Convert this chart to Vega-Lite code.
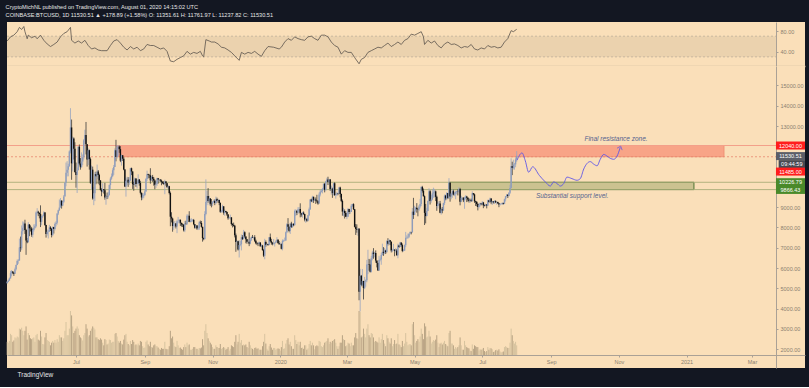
{
"$schema":"https://vega.github.io/schema/vega-lite/v6.json",
"background":"#131722",
"padding":{"left":5,"right":6,"top":4,"bottom":8},
"title":{"text":"CryptoMichNL published on TradingView.com, August 01, 2020 14:15:02 UTC","subtitle":"COINBASE:BTCUSD, 1D  11530.51 ▲ +178.89 (+1.58%)  O: 11351.61  H: 11761.97  L: 11237.82  C: 11530.51","anchor":"start","font":"Liberation Sans","fontSize":5.6,"fontWeight":"normal","color":"#e6e6e6","subtitleFont":"Liberation Sans","subtitleFontSize":5.6,"subtitleColor":"#e6e6e6","subtitlePadding":2.5,"offset":3.5},
"config":{"view":{"stroke":null},"concat":{"spacing":0},"axis":{"labelFont":"Liberation Sans","labelFontSize":5.5,"labelColor":"#8a8070","domainColor":"#aaa196","tickColor":"#aaa196","grid":false,"domainWidth":1}},
"spacing":0,
"datasets":{
"k":[
{"d":"2019-04-30","o":5260,"h":5350,"l":5220,"c":5320,"v":30},
{"d":"2019-05-01","o":5320,"h":5430,"l":5300,"c":5380,"v":28},
{"d":"2019-05-02","o":5380,"h":5530,"l":5370,"c":5490,"v":32},
{"d":"2019-05-03","o":5490,"h":5860,"l":5480,"c":5750,"v":48},
{"d":"2019-05-04","o":5750,"h":5900,"l":5590,"c":5830,"v":45},
{"d":"2019-05-05","o":5830,"h":5840,"l":5700,"c":5770,"v":30},
{"d":"2019-05-06","o":5770,"h":5800,"l":5610,"c":5720,"v":33},
{"d":"2019-05-07","o":5720,"h":6020,"l":5710,"c":5940,"v":40},
{"d":"2019-05-08","o":5940,"h":6170,"l":5880,"c":6150,"v":38},
{"d":"2019-05-09","o":6150,"h":6420,"l":6140,"c":6350,"v":42},
{"d":"2019-05-10","o":6350,"h":6440,"l":6210,"c":6370,"v":40},
{"d":"2019-05-11","o":6370,"h":7450,"l":6360,"c":7010,"v":60},
{"d":"2019-05-12","o":7010,"h":7550,"l":6800,"c":6980,"v":58},
{"d":"2019-05-13","o":6980,"h":8100,"l":6880,"c":7810,"v":62},
{"d":"2019-05-14","o":7810,"h":8300,"l":7650,"c":7980,"v":55},
{"d":"2019-05-15","o":7980,"h":8280,"l":7860,"c":8200,"v":45},
{"d":"2019-05-16","o":8200,"h":8380,"l":7680,"c":7880,"v":55},
{"d":"2019-05-17","o":7880,"h":7930,"l":6650,"c":7360,"v":65},
{"d":"2019-05-18","o":7360,"h":7480,"l":7220,"c":7270,"v":35},
{"d":"2019-05-19","o":7270,"h":8260,"l":7260,"c":8150,"v":50},
{"d":"2019-05-20","o":8150,"h":8160,"l":7570,"c":7960,"v":45},
{"d":"2019-05-21","o":7960,"h":8100,"l":7800,"c":7950,"v":38},
{"d":"2019-05-22","o":7950,"h":8030,"l":7540,"c":7640,"v":36},
{"d":"2019-05-23","o":7640,"h":7950,"l":7500,"c":7880,"v":38},
{"d":"2019-05-24","o":7880,"h":8150,"l":7800,"c":7990,"v":40},
{"d":"2019-05-25","o":7990,"h":8160,"l":7940,"c":8060,"v":30},
{"d":"2019-05-26","o":8060,"h":8790,"l":8000,"c":8740,"v":45},
{"d":"2019-05-27","o":8740,"h":8950,"l":8650,"c":8780,"v":48},
{"d":"2019-05-28","o":8780,"h":8820,"l":8560,"c":8720,"v":35},
{"d":"2019-05-29","o":8720,"h":8740,"l":8450,"c":8660,"v":33},
{"d":"2019-05-30","o":8660,"h":9090,"l":8020,"c":8280,"v":55},
{"d":"2019-05-31","o":8280,"h":8580,"l":8110,"c":8550,"v":42},
{"d":"2019-06-01","o":8550,"h":8630,"l":8470,"c":8560,"v":25},
{"d":"2019-06-02","o":8560,"h":8800,"l":8550,"c":8740,"v":24},
{"d":"2019-06-03","o":8740,"h":8760,"l":8080,"c":8120,"v":40},
{"d":"2019-06-04","o":8120,"h":8130,"l":7500,"c":7680,"v":50},
{"d":"2019-06-05","o":7680,"h":7900,"l":7600,"c":7790,"v":34},
{"d":"2019-06-06","o":7790,"h":7880,"l":7460,"c":7800,"v":32},
{"d":"2019-06-07","o":7800,"h":8130,"l":7780,"c":8000,"v":30},
{"d":"2019-06-08","o":8000,"h":8060,"l":7830,"c":7930,"v":22},
{"d":"2019-06-09","o":7930,"h":7970,"l":7510,"c":7630,"v":28},
{"d":"2019-06-10","o":7630,"h":8050,"l":7570,"c":8020,"v":32},
{"d":"2019-06-11","o":8020,"h":8030,"l":7700,"c":7920,"v":28},
{"d":"2019-06-12","o":7920,"h":8250,"l":7850,"c":8170,"v":34},
{"d":"2019-06-13","o":8170,"h":8310,"l":8050,"c":8230,"v":28},
{"d":"2019-06-14","o":8230,"h":8700,"l":8140,"c":8690,"v":36},
{"d":"2019-06-15","o":8690,"h":8880,"l":8610,"c":8850,"v":30},
{"d":"2019-06-16","o":8850,"h":9380,"l":8810,"c":8980,"v":45},
{"d":"2019-06-17","o":8980,"h":9450,"l":8980,"c":9320,"v":40},
{"d":"2019-06-18","o":9320,"h":9340,"l":8930,"c":9080,"v":40},
{"d":"2019-06-19","o":9080,"h":9320,"l":9050,"c":9270,"v":32},
{"d":"2019-06-20","o":9270,"h":9600,"l":9210,"c":9530,"v":38},
{"d":"2019-06-21","o":9530,"h":10240,"l":9530,"c":10200,"v":55},
{"d":"2019-06-22","o":10200,"h":11200,"l":10030,"c":10700,"v":75},
{"d":"2019-06-23","o":10700,"h":11270,"l":10520,"c":10850,"v":45},
{"d":"2019-06-24","o":10850,"h":11140,"l":10520,"c":11020,"v":45},
{"d":"2019-06-25","o":11020,"h":11800,"l":10990,"c":11750,"v":60},
{"d":"2019-06-26","o":11750,"h":13880,"l":11650,"c":12930,"v":100},
{"d":"2019-06-27","o":12930,"h":13320,"l":10350,"c":11160,"v":90},
{"d":"2019-06-28","o":11160,"h":12480,"l":10760,"c":12380,"v":65},
{"d":"2019-06-29","o":12380,"h":12440,"l":11350,"c":11880,"v":50},
{"d":"2019-06-30","o":11880,"h":12200,"l":10700,"c":10740,"v":55},
{"d":"2019-07-01","o":10740,"h":11200,"l":9960,"c":10590,"v":60},
{"d":"2019-07-02","o":10590,"h":10950,"l":9700,"c":10820,"v":65},
{"d":"2019-07-03","o":10820,"h":12000,"l":10820,"c":11980,"v":60},
{"d":"2019-07-04","o":11980,"h":12090,"l":11060,"c":11150,"v":45},
{"d":"2019-07-05","o":11150,"h":11420,"l":10850,"c":10970,"v":40},
{"d":"2019-07-06","o":10970,"h":11700,"l":10960,"c":11250,"v":38},
{"d":"2019-07-07","o":11250,"h":11600,"l":11070,"c":11460,"v":33},
{"d":"2019-07-08","o":11460,"h":12360,"l":11350,"c":12300,"v":45},
{"d":"2019-07-09","o":12300,"h":12820,"l":12120,"c":12560,"v":50},
{"d":"2019-07-10","o":12560,"h":13200,"l":11600,"c":12100,"v":70},
{"d":"2019-07-11","o":12100,"h":12110,"l":11000,"c":11350,"v":60},
{"d":"2019-07-12","o":11350,"h":11900,"l":11080,"c":11810,"v":42},
{"d":"2019-07-13","o":11810,"h":11840,"l":10850,"c":11370,"v":45},
{"d":"2019-07-14","o":11370,"h":11450,"l":10150,"c":10200,"v":55},
{"d":"2019-07-15","o":10200,"h":11050,"l":9870,"c":10850,"v":60},
{"d":"2019-07-16","o":10850,"h":11000,"l":9370,"c":9430,"v":65},
{"d":"2019-07-17","o":9430,"h":9990,"l":9100,"c":9690,"v":62},
{"d":"2019-07-18","o":9690,"h":10740,"l":9300,"c":10640,"v":58},
{"d":"2019-07-19","o":10640,"h":10750,"l":10130,"c":10530,"v":40},
{"d":"2019-07-20","o":10530,"h":11100,"l":10380,"c":10760,"v":40},
{"d":"2019-07-21","o":10760,"h":10830,"l":10150,"c":10590,"v":36},
{"d":"2019-07-22","o":10590,"h":10650,"l":10080,"c":10320,"v":34},
{"d":"2019-07-23","o":10320,"h":10330,"l":9820,"c":9850,"v":38},
{"d":"2019-07-24","o":9850,"h":9930,"l":9540,"c":9770,"v":35},
{"d":"2019-07-25","o":9770,"h":10180,"l":9720,"c":9880,"v":28},
{"d":"2019-07-26","o":9880,"h":9890,"l":9670,"c":9840,"v":22},
{"d":"2019-07-27","o":9840,"h":10200,"l":9370,"c":9480,"v":36},
{"d":"2019-07-28","o":9480,"h":9600,"l":9120,"c":9530,"v":34},
{"d":"2019-07-29","o":9530,"h":9720,"l":9400,"c":9510,"v":24},
{"d":"2019-07-30","o":9510,"h":9750,"l":9420,"c":9590,"v":26},
{"d":"2019-07-31","o":9590,"h":10120,"l":9580,"c":10090,"v":35},
{"d":"2019-08-01","o":10090,"h":10480,"l":9890,"c":10410,"v":34},
{"d":"2019-08-02","o":10410,"h":10660,"l":10350,"c":10530,"v":28},
{"d":"2019-08-03","o":10530,"h":10920,"l":10490,"c":10820,"v":30},
{"d":"2019-08-04","o":10820,"h":11080,"l":10590,"c":10980,"v":30},
{"d":"2019-08-05","o":10980,"h":11900,"l":10980,"c":11800,"v":48},
{"d":"2019-08-06","o":11800,"h":12320,"l":11260,"c":11470,"v":50},
{"d":"2019-08-07","o":11470,"h":12060,"l":11400,"c":11980,"v":42},
{"d":"2019-08-08","o":11980,"h":12050,"l":11530,"c":11990,"v":32},
{"d":"2019-08-09","o":11990,"h":12040,"l":11680,"c":11860,"v":28},
{"d":"2019-08-10","o":11860,"h":12010,"l":11220,"c":11290,"v":32},
{"d":"2019-08-11","o":11290,"h":11590,"l":11050,"c":11560,"v":26},
{"d":"2019-08-12","o":11560,"h":11570,"l":11280,"c":11390,"v":24},
{"d":"2019-08-13","o":11390,"h":11460,"l":10820,"c":10860,"v":35},
{"d":"2019-08-14","o":10860,"h":10880,"l":9990,"c":10020,"v":45},
{"d":"2019-08-15","o":10020,"h":10440,"l":9520,"c":10300,"v":48},
{"d":"2019-08-16","o":10300,"h":10500,"l":10080,"c":10350,"v":30},
{"d":"2019-08-17","o":10350,"h":10480,"l":10000,"c":10220,"v":25},
{"d":"2019-08-18","o":10220,"h":10480,"l":10100,"c":10320,"v":22},
{"d":"2019-08-19","o":10320,"h":10940,"l":10280,"c":10920,"v":32},
{"d":"2019-08-20","o":10920,"h":10950,"l":10580,"c":10760,"v":25},
{"d":"2019-08-21","o":10760,"h":10770,"l":9900,"c":10130,"v":34},
{"d":"2019-08-22","o":10130,"h":10250,"l":9810,"c":10110,"v":30},
{"d":"2019-08-23","o":10110,"h":10460,"l":10070,"c":10410,"v":22},
{"d":"2019-08-24","o":10410,"h":10420,"l":10000,"c":10140,"v":24},
{"d":"2019-08-25","o":10140,"h":10340,"l":9920,"c":10140,"v":22},
{"d":"2019-08-26","o":10140,"h":10620,"l":10140,"c":10370,"v":26},
{"d":"2019-08-27","o":10370,"h":10390,"l":10060,"c":10190,"v":22},
{"d":"2019-08-28","o":10190,"h":10300,"l":9630,"c":9710,"v":32},
{"d":"2019-08-29","o":9710,"h":9720,"l":9340,"c":9480,"v":30},
{"d":"2019-08-30","o":9480,"h":9690,"l":9370,"c":9580,"v":20},
{"d":"2019-08-31","o":9580,"h":9680,"l":9440,"c":9600,"v":16},
{"d":"2019-09-01","o":9600,"h":9860,"l":9540,"c":9770,"v":17},
{"d":"2019-09-02","o":9770,"h":10440,"l":9760,"c":10390,"v":30},
{"d":"2019-09-03","o":10390,"h":10800,"l":10290,"c":10620,"v":33},
{"d":"2019-09-04","o":10620,"h":10650,"l":10420,"c":10580,"v":24},
{"d":"2019-09-05","o":10580,"h":10630,"l":10430,"c":10570,"v":20},
{"d":"2019-09-06","o":10570,"h":10920,"l":10160,"c":10320,"v":30},
{"d":"2019-09-07","o":10320,"h":10550,"l":10300,"c":10490,"v":18},
{"d":"2019-09-08","o":10490,"h":10590,"l":10250,"c":10400,"v":17},
{"d":"2019-09-09","o":10400,"h":10490,"l":10060,"c":10310,"v":22},
{"d":"2019-09-10","o":10310,"h":10360,"l":9880,"c":10110,"v":24},
{"d":"2019-09-11","o":10110,"h":10290,"l":9950,"c":10160,"v":20},
{"d":"2019-09-12","o":10160,"h":10450,"l":10050,"c":10420,"v":20},
{"d":"2019-09-13","o":10420,"h":10440,"l":10160,"c":10360,"v":17},
{"d":"2019-09-14","o":10360,"h":10400,"l":10250,"c":10360,"v":14},
{"d":"2019-09-15","o":10360,"h":10380,"l":10250,"c":10310,"v":12},
{"d":"2019-09-16","o":10310,"h":10360,"l":10080,"c":10250,"v":16},
{"d":"2019-09-17","o":10250,"h":10280,"l":10140,"c":10190,"v":14},
{"d":"2019-09-18","o":10190,"h":10280,"l":10100,"c":10160,"v":14},
{"d":"2019-09-19","o":10160,"h":10350,"l":9640,"c":10270,"v":30},
{"d":"2019-09-20","o":10270,"h":10290,"l":10060,"c":10180,"v":14},
{"d":"2019-09-21","o":10180,"h":10200,"l":9940,"c":9990,"v":13},
{"d":"2019-09-22","o":9990,"h":10080,"l":9890,"c":10030,"v":13},
{"d":"2019-09-23","o":10030,"h":10050,"l":9630,"c":9700,"v":20},
{"d":"2019-09-24","o":9700,"h":9770,"l":8060,"c":8530,"v":55},
{"d":"2019-09-25","o":8530,"h":8750,"l":8250,"c":8440,"v":38},
{"d":"2019-09-26","o":8440,"h":8480,"l":7790,"c":8070,"v":42},
{"d":"2019-09-27","o":8070,"h":8280,"l":7880,"c":8200,"v":28},
{"d":"2019-09-28","o":8200,"h":8320,"l":8000,"c":8200,"v":20},
{"d":"2019-09-29","o":8200,"h":8220,"l":7950,"c":8050,"v":18},
{"d":"2019-09-30","o":8050,"h":8380,"l":7720,"c":8300,"v":32},
{"d":"2019-10-01","o":8300,"h":8520,"l":8220,"c":8300,"v":22},
{"d":"2019-10-02","o":8300,"h":8390,"l":8180,"c":8380,"v":16},
{"d":"2019-10-03","o":8380,"h":8390,"l":8070,"c":8230,"v":17},
{"d":"2019-10-04","o":8230,"h":8230,"l":8040,"c":8150,"v":14},
{"d":"2019-10-05","o":8150,"h":8200,"l":8020,"c":8130,"v":12},
{"d":"2019-10-06","o":8130,"h":8170,"l":7800,"c":7860,"v":18},
{"d":"2019-10-07","o":7860,"h":8320,"l":7770,"c":8200,"v":24},
{"d":"2019-10-08","o":8200,"h":8330,"l":8120,"c":8180,"v":18},
{"d":"2019-10-09","o":8180,"h":8650,"l":8120,"c":8580,"v":28},
{"d":"2019-10-10","o":8580,"h":8640,"l":8420,"c":8580,"v":22},
{"d":"2019-10-11","o":8580,"h":8800,"l":8260,"c":8270,"v":24},
{"d":"2019-10-12","o":8270,"h":8430,"l":8250,"c":8330,"v":12},
{"d":"2019-10-13","o":8330,"h":8450,"l":8260,"c":8340,"v":12},
{"d":"2019-10-14","o":8340,"h":8410,"l":8280,"c":8370,"v":14},
{"d":"2019-10-15","o":8370,"h":8420,"l":8110,"c":8160,"v":18},
{"d":"2019-10-16","o":8160,"h":8170,"l":7940,"c":7990,"v":18},
{"d":"2019-10-17","o":7990,"h":8120,"l":7950,"c":8100,"v":14},
{"d":"2019-10-18","o":8100,"h":8120,"l":7880,"c":7950,"v":14},
{"d":"2019-10-19","o":7950,"h":8090,"l":7870,"c":7960,"v":12},
{"d":"2019-10-20","o":7960,"h":8310,"l":7880,"c":8240,"v":16},
{"d":"2019-10-21","o":8240,"h":8340,"l":8170,"c":8220,"v":15},
{"d":"2019-10-22","o":8220,"h":8320,"l":7990,"c":8030,"v":17},
{"d":"2019-10-23","o":8030,"h":8040,"l":7300,"c":7470,"v":36},
{"d":"2019-10-24","o":7470,"h":7500,"l":7370,"c":7430,"v":22},
{"d":"2019-10-25","o":7430,"h":8800,"l":7400,"c":8660,"v":55},
{"d":"2019-10-26","o":8660,"h":10370,"l":8600,"c":9250,"v":70},
{"d":"2019-10-27","o":9250,"h":9800,"l":9100,"c":9550,"v":50},
{"d":"2019-10-28","o":9550,"h":9940,"l":9220,"c":9300,"v":38},
{"d":"2019-10-29","o":9300,"h":9560,"l":9100,"c":9430,"v":32},
{"d":"2019-10-30","o":9430,"h":9440,"l":9070,"c":9170,"v":28},
{"d":"2019-10-31","o":9170,"h":9400,"l":8990,"c":9150,"v":24},
{"d":"2019-11-01","o":9150,"h":9300,"l":9050,"c":9250,"v":18},
{"d":"2019-11-02","o":9250,"h":9370,"l":9220,"c":9310,"v":14},
{"d":"2019-11-03","o":9310,"h":9380,"l":9100,"c":9200,"v":14},
{"d":"2019-11-04","o":9200,"h":9520,"l":9150,"c":9400,"v":22},
{"d":"2019-11-05","o":9400,"h":9470,"l":9220,"c":9310,"v":18},
{"d":"2019-11-06","o":9310,"h":9420,"l":9270,"c":9350,"v":16},
{"d":"2019-11-07","o":9350,"h":9370,"l":9100,"c":9210,"v":16},
{"d":"2019-11-08","o":9210,"h":9230,"l":8720,"c":8770,"v":25},
{"d":"2019-11-09","o":8770,"h":8870,"l":8730,"c":8810,"v":14},
{"d":"2019-11-10","o":8810,"h":9120,"l":8740,"c":9040,"v":16},
{"d":"2019-11-11","o":9040,"h":9050,"l":8630,"c":8730,"v":18},
{"d":"2019-11-12","o":8730,"h":8880,"l":8570,"c":8810,"v":16},
{"d":"2019-11-13","o":8810,"h":8820,"l":8710,"c":8760,"v":12},
{"d":"2019-11-14","o":8760,"h":8780,"l":8570,"c":8640,"v":14},
{"d":"2019-11-15","o":8640,"h":8660,"l":8380,"c":8460,"v":18},
{"d":"2019-11-16","o":8460,"h":8530,"l":8440,"c":8490,"v":10},
{"d":"2019-11-17","o":8490,"h":8630,"l":8390,"c":8500,"v":14},
{"d":"2019-11-18","o":8500,"h":8500,"l":8090,"c":8170,"v":22},
{"d":"2019-11-19","o":8170,"h":8210,"l":8000,"c":8120,"v":20},
{"d":"2019-11-20","o":8120,"h":8240,"l":8040,"c":8080,"v":18},
{"d":"2019-11-21","o":8080,"h":8130,"l":7510,"c":7620,"v":30},
{"d":"2019-11-22","o":7620,"h":7700,"l":6800,"c":7280,"v":45},
{"d":"2019-11-23","o":7280,"h":7360,"l":7080,"c":7320,"v":24},
{"d":"2019-11-24","o":7320,"h":7350,"l":6860,"c":6910,"v":30},
{"d":"2019-11-25","o":6910,"h":7370,"l":6520,"c":7140,"v":48},
{"d":"2019-11-26","o":7140,"h":7330,"l":7070,"c":7170,"v":28},
{"d":"2019-11-27","o":7170,"h":7650,"l":6870,"c":7520,"v":34},
{"d":"2019-11-28","o":7520,"h":7620,"l":7380,"c":7430,"v":22},
{"d":"2019-11-29","o":7430,"h":7880,"l":7410,"c":7760,"v":24},
{"d":"2019-11-30","o":7760,"h":7810,"l":7480,"c":7550,"v":22},
{"d":"2019-12-01","o":7550,"h":7560,"l":7220,"c":7420,"v":24},
{"d":"2019-12-02","o":7420,"h":7430,"l":7200,"c":7300,"v":18},
{"d":"2019-12-03","o":7300,"h":7410,"l":7230,"c":7300,"v":16},
{"d":"2019-12-04","o":7300,"h":7750,"l":7080,"c":7200,"v":30},
{"d":"2019-12-05","o":7200,"h":7480,"l":7170,"c":7400,"v":22},
{"d":"2019-12-06","o":7400,"h":7560,"l":7330,"c":7530,"v":16},
{"d":"2019-12-07","o":7530,"h":7630,"l":7490,"c":7500,"v":14},
{"d":"2019-12-08","o":7500,"h":7550,"l":7400,"c":7520,"v":12},
{"d":"2019-12-09","o":7520,"h":7620,"l":7280,"c":7340,"v":16},
{"d":"2019-12-10","o":7340,"h":7400,"l":7170,"c":7220,"v":17},
{"d":"2019-12-11","o":7220,"h":7270,"l":7130,"c":7210,"v":14},
{"d":"2019-12-12","o":7210,"h":7260,"l":7080,"c":7190,"v":15},
{"d":"2019-12-13","o":7190,"h":7310,"l":7170,"c":7260,"v":12},
{"d":"2019-12-14","o":7260,"h":7270,"l":7050,"c":7070,"v":12},
{"d":"2019-12-15","o":7070,"h":7190,"l":7020,"c":7110,"v":12},
{"d":"2019-12-16","o":7110,"h":7140,"l":6860,"c":6880,"v":20},
{"d":"2019-12-17","o":6880,"h":6940,"l":6540,"c":6610,"v":30},
{"d":"2019-12-18","o":6610,"h":7440,"l":6430,"c":7280,"v":48},
{"d":"2019-12-19","o":7280,"h":7360,"l":7050,"c":7150,"v":26},
{"d":"2019-12-20","o":7150,"h":7230,"l":7100,"c":7190,"v":14},
{"d":"2019-12-21","o":7190,"h":7190,"l":7100,"c":7140,"v":10},
{"d":"2019-12-22","o":7140,"h":7530,"l":7120,"c":7520,"v":20},
{"d":"2019-12-23","o":7520,"h":7700,"l":7270,"c":7320,"v":25},
{"d":"2019-12-24","o":7320,"h":7440,"l":7150,"c":7250,"v":17},
{"d":"2019-12-25","o":7250,"h":7270,"l":7120,"c":7200,"v":12},
{"d":"2019-12-26","o":7200,"h":7430,"l":7150,"c":7200,"v":16},
{"d":"2019-12-27","o":7200,"h":7270,"l":7060,"c":7250,"v":16},
{"d":"2019-12-28","o":7250,"h":7370,"l":7240,"c":7310,"v":12},
{"d":"2019-12-29","o":7310,"h":7520,"l":7280,"c":7390,"v":14},
{"d":"2019-12-30","o":7390,"h":7420,"l":7220,"c":7220,"v":15},
{"d":"2019-12-31","o":7220,"h":7330,"l":7150,"c":7170,"v":14},
{"d":"2020-01-01","o":7170,"h":7260,"l":7150,"c":7180,"v":10},
{"d":"2020-01-02","o":7180,"h":7210,"l":6920,"c":6950,"v":18},
{"d":"2020-01-03","o":6950,"h":7410,"l":6870,"c":7340,"v":32},
{"d":"2020-01-04","o":7340,"h":7400,"l":7280,"c":7350,"v":14},
{"d":"2020-01-05","o":7350,"h":7500,"l":7320,"c":7360,"v":15},
{"d":"2020-01-06","o":7360,"h":7800,"l":7350,"c":7760,"v":26},
{"d":"2020-01-07","o":7760,"h":8210,"l":7720,"c":8160,"v":34},
{"d":"2020-01-08","o":8160,"h":8460,"l":7880,"c":8040,"v":38},
{"d":"2020-01-09","o":8040,"h":8050,"l":7760,"c":7820,"v":24},
{"d":"2020-01-10","o":7820,"h":8190,"l":7680,"c":8190,"v":30},
{"d":"2020-01-11","o":8190,"h":8280,"l":7980,"c":8020,"v":20},
{"d":"2020-01-12","o":8020,"h":8190,"l":7980,"c":8180,"v":14},
{"d":"2020-01-13","o":8180,"h":8200,"l":8060,"c":8110,"v":14},
{"d":"2020-01-14","o":8110,"h":8880,"l":8110,"c":8810,"v":45},
{"d":"2020-01-15","o":8810,"h":8900,"l":8570,"c":8820,"v":34},
{"d":"2020-01-16","o":8820,"h":8840,"l":8610,"c":8720,"v":25},
{"d":"2020-01-17","o":8720,"h":9000,"l":8670,"c":8900,"v":30},
{"d":"2020-01-18","o":8900,"h":9000,"l":8780,"c":8910,"v":22},
{"d":"2020-01-19","o":8910,"h":9190,"l":8500,"c":8700,"v":30},
{"d":"2020-01-20","o":8700,"h":8720,"l":8530,"c":8630,"v":16},
{"d":"2020-01-21","o":8630,"h":8770,"l":8480,"c":8730,"v":17},
{"d":"2020-01-22","o":8730,"h":8790,"l":8620,"c":8660,"v":14},
{"d":"2020-01-23","o":8660,"h":8670,"l":8300,"c":8390,"v":22},
{"d":"2020-01-24","o":8390,"h":8500,"l":8230,"c":8430,"v":22},
{"d":"2020-01-25","o":8430,"h":8440,"l":8280,"c":8330,"v":12},
{"d":"2020-01-26","o":8330,"h":8610,"l":8300,"c":8600,"v":15},
{"d":"2020-01-27","o":8600,"h":8980,"l":8560,"c":8900,"v":25},
{"d":"2020-01-28","o":8900,"h":9400,"l":8860,"c":9380,"v":32},
{"d":"2020-01-29","o":9380,"h":9420,"l":9250,"c":9290,"v":22},
{"d":"2020-01-30","o":9290,"h":9560,"l":9230,"c":9510,"v":28},
{"d":"2020-01-31","o":9510,"h":9520,"l":9210,"c":9340,"v":22},
{"d":"2020-02-01","o":9340,"h":9430,"l":9300,"c":9380,"v":13},
{"d":"2020-02-02","o":9380,"h":9480,"l":9160,"c":9330,"v":20},
{"d":"2020-02-03","o":9330,"h":9610,"l":9220,"c":9290,"v":22},
{"d":"2020-02-04","o":9290,"h":9340,"l":9120,"c":9180,"v":20},
{"d":"2020-02-05","o":9180,"h":9720,"l":9170,"c":9620,"v":32},
{"d":"2020-02-06","o":9620,"h":9860,"l":9530,"c":9760,"v":30},
{"d":"2020-02-07","o":9760,"h":9880,"l":9720,"c":9800,"v":20},
{"d":"2020-02-08","o":9800,"h":9950,"l":9680,"c":9900,"v":18},
{"d":"2020-02-09","o":9900,"h":10160,"l":9870,"c":10160,"v":22},
{"d":"2020-02-10","o":10160,"h":10180,"l":9730,"c":9860,"v":28},
{"d":"2020-02-11","o":9860,"h":10300,"l":9790,"c":10270,"v":30},
{"d":"2020-02-12","o":10270,"h":10450,"l":10240,"c":10360,"v":32},
{"d":"2020-02-13","o":10360,"h":10500,"l":10090,"c":10240,"v":38},
{"d":"2020-02-14","o":10240,"h":10390,"l":10130,"c":10370,"v":25},
{"d":"2020-02-15","o":10370,"h":10390,"l":9800,"c":9900,"v":30},
{"d":"2020-02-16","o":9900,"h":10060,"l":9620,"c":9910,"v":28},
{"d":"2020-02-17","o":9910,"h":9960,"l":9460,"c":9700,"v":32},
{"d":"2020-02-18","o":9700,"h":10200,"l":9580,"c":10180,"v":34},
{"d":"2020-02-19","o":10180,"h":10230,"l":9550,"c":9600,"v":36},
{"d":"2020-02-20","o":9600,"h":9660,"l":9420,"c":9610,"v":28},
{"d":"2020-02-21","o":9610,"h":9760,"l":9560,"c":9690,"v":20},
{"d":"2020-02-22","o":9690,"h":9700,"l":9590,"c":9660,"v":14},
{"d":"2020-02-23","o":9660,"h":10000,"l":9650,"c":9970,"v":20},
{"d":"2020-02-24","o":9970,"h":10010,"l":9480,"c":9650,"v":28},
{"d":"2020-02-25","o":9650,"h":9670,"l":9250,"c":9310,"v":28},
{"d":"2020-02-26","o":9310,"h":9380,"l":8580,"c":8780,"v":45},
{"d":"2020-02-27","o":8780,"h":8970,"l":8550,"c":8810,"v":36},
{"d":"2020-02-28","o":8810,"h":8890,"l":8440,"c":8710,"v":34},
{"d":"2020-02-29","o":8710,"h":8800,"l":8530,"c":8530,"v":20},
{"d":"2020-03-01","o":8530,"h":8750,"l":8410,"c":8530,"v":22},
{"d":"2020-03-02","o":8530,"h":8960,"l":8510,"c":8910,"v":28},
{"d":"2020-03-03","o":8910,"h":8920,"l":8660,"c":8760,"v":26},
{"d":"2020-03-04","o":8760,"h":8850,"l":8670,"c":8760,"v":20},
{"d":"2020-03-05","o":8760,"h":9150,"l":8760,"c":9070,"v":28},
{"d":"2020-03-06","o":9070,"h":9170,"l":9010,"c":9150,"v":22},
{"d":"2020-03-07","o":9150,"h":9190,"l":8860,"c":8900,"v":22},
{"d":"2020-03-08","o":8900,"h":8900,"l":8000,"c":8030,"v":40},
{"d":"2020-03-09","o":8030,"h":8170,"l":7630,"c":7930,"v":50},
{"d":"2020-03-10","o":7930,"h":8150,"l":7740,"c":7890,"v":38},
{"d":"2020-03-11","o":7890,"h":7980,"l":7590,"c":7940,"v":36},
{"d":"2020-03-12","o":7940,"h":7970,"l":4410,"c":4830,"v":100},
{"d":"2020-03-13","o":4830,"h":5960,"l":3860,"c":5620,"v":98},
{"d":"2020-03-14","o":5620,"h":5660,"l":5100,"c":5170,"v":40},
{"d":"2020-03-15","o":5170,"h":5950,"l":5100,"c":5360,"v":42},
{"d":"2020-03-16","o":5360,"h":5370,"l":4450,"c":5010,"v":60},
{"d":"2020-03-17","o":5010,"h":5560,"l":4960,"c":5330,"v":48},
{"d":"2020-03-18","o":5330,"h":5440,"l":5080,"c":5400,"v":40},
{"d":"2020-03-19","o":5400,"h":6400,"l":5300,"c":6170,"v":60},
{"d":"2020-03-20","o":6170,"h":6900,"l":5700,"c":6200,"v":70},
{"d":"2020-03-21","o":6200,"h":6450,"l":5870,"c":6180,"v":45},
{"d":"2020-03-22","o":6180,"h":6420,"l":5780,"c":5820,"v":40},
{"d":"2020-03-23","o":5820,"h":6600,"l":5780,"c":6480,"v":50},
{"d":"2020-03-24","o":6480,"h":6850,"l":6380,"c":6760,"v":48},
{"d":"2020-03-25","o":6760,"h":6980,"l":6460,"c":6690,"v":40},
{"d":"2020-03-26","o":6690,"h":6800,"l":6530,"c":6740,"v":30},
{"d":"2020-03-27","o":6740,"h":6870,"l":6260,"c":6370,"v":32},
{"d":"2020-03-28","o":6370,"h":6370,"l":6030,"c":6250,"v":30},
{"d":"2020-03-29","o":6250,"h":6260,"l":5870,"c":5880,"v":28},
{"d":"2020-03-30","o":5880,"h":6600,"l":5860,"c":6400,"v":40},
{"d":"2020-03-31","o":6400,"h":6520,"l":6330,"c":6420,"v":28},
{"d":"2020-04-01","o":6420,"h":6750,"l":6160,"c":6640,"v":36},
{"d":"2020-04-02","o":6640,"h":7200,"l":6620,"c":6800,"v":48},
{"d":"2020-04-03","o":6800,"h":7030,"l":6600,"c":6740,"v":34},
{"d":"2020-04-04","o":6740,"h":6990,"l":6680,"c":6870,"v":26},
{"d":"2020-04-05","o":6870,"h":6900,"l":6690,"c":6780,"v":20},
{"d":"2020-04-06","o":6780,"h":7370,"l":6780,"c":7330,"v":45},
{"d":"2020-04-07","o":7330,"h":7470,"l":7110,"c":7200,"v":38},
{"d":"2020-04-08","o":7200,"h":7430,"l":7150,"c":7370,"v":30},
{"d":"2020-04-09","o":7370,"h":7380,"l":7130,"c":7300,"v":26},
{"d":"2020-04-10","o":7300,"h":7310,"l":6770,"c":6860,"v":38},
{"d":"2020-04-11","o":6860,"h":6950,"l":6780,"c":6890,"v":20},
{"d":"2020-04-12","o":6890,"h":7190,"l":6850,"c":6910,"v":25},
{"d":"2020-04-13","o":6910,"h":6920,"l":6580,"c":6850,"v":34},
{"d":"2020-04-14","o":6850,"h":6980,"l":6770,"c":6870,"v":25},
{"d":"2020-04-15","o":6870,"h":6940,"l":6610,"c":6630,"v":26},
{"d":"2020-04-16","o":6630,"h":7200,"l":6480,"c":7110,"v":48},
{"d":"2020-04-17","o":7110,"h":7150,"l":6990,"c":7040,"v":24},
{"d":"2020-04-18","o":7040,"h":7290,"l":7030,"c":7260,"v":22},
{"d":"2020-04-19","o":7260,"h":7260,"l":7060,"c":7130,"v":18},
{"d":"2020-04-20","o":7130,"h":7210,"l":6780,"c":6840,"v":32},
{"d":"2020-04-21","o":6840,"h":6930,"l":6810,"c":6860,"v":20},
{"d":"2020-04-22","o":6860,"h":7160,"l":6850,"c":7130,"v":26},
{"d":"2020-04-23","o":7130,"h":7780,"l":7030,"c":7490,"v":50},
{"d":"2020-04-24","o":7490,"h":7610,"l":7430,"c":7510,"v":30},
{"d":"2020-04-25","o":7510,"h":7700,"l":7440,"c":7540,"v":22},
{"d":"2020-04-26","o":7540,"h":7700,"l":7480,"c":7690,"v":24},
{"d":"2020-04-27","o":7690,"h":7800,"l":7660,"c":7780,"v":25},
{"d":"2020-04-28","o":7780,"h":7790,"l":7660,"c":7760,"v":22},
{"d":"2020-04-29","o":7760,"h":8960,"l":7740,"c":8780,"v":70},
{"d":"2020-04-30","o":8780,"h":9460,"l":8420,"c":8620,"v":75},
{"d":"2020-05-01","o":8620,"h":9070,"l":8610,"c":8830,"v":45},
{"d":"2020-05-02","o":8830,"h":9010,"l":8770,"c":8970,"v":28},
{"d":"2020-05-03","o":8970,"h":9200,"l":8730,"c":8900,"v":32},
{"d":"2020-05-04","o":8900,"h":8950,"l":8550,"c":8880,"v":36},
{"d":"2020-05-05","o":8880,"h":9100,"l":8800,"c":9030,"v":30},
{"d":"2020-05-06","o":9030,"h":9410,"l":8940,"c":9160,"v":42},
{"d":"2020-05-07","o":9160,"h":10030,"l":9050,"c":9990,"v":60},
{"d":"2020-05-08","o":9990,"h":10050,"l":9720,"c":9810,"v":48},
{"d":"2020-05-09","o":9810,"h":9920,"l":9520,"c":9540,"v":36},
{"d":"2020-05-10","o":9540,"h":9580,"l":8120,"c":8720,"v":72},
{"d":"2020-05-11","o":8720,"h":9160,"l":8200,"c":8560,"v":65},
{"d":"2020-05-12","o":8560,"h":8970,"l":8550,"c":8810,"v":40},
{"d":"2020-05-13","o":8810,"h":9330,"l":8800,"c":9310,"v":42},
{"d":"2020-05-14","o":9310,"h":9930,"l":9270,"c":9790,"v":55},
{"d":"2020-05-15","o":9790,"h":9840,"l":9130,"c":9310,"v":42},
{"d":"2020-05-16","o":9310,"h":9600,"l":9220,"c":9380,"v":26},
{"d":"2020-05-17","o":9380,"h":9890,"l":9340,"c":9680,"v":30},
{"d":"2020-05-18","o":9680,"h":9960,"l":9460,"c":9730,"v":34},
{"d":"2020-05-19","o":9730,"h":9900,"l":9480,"c":9780,"v":32},
{"d":"2020-05-20","o":9780,"h":9820,"l":9300,"c":9510,"v":35},
{"d":"2020-05-21","o":9510,"h":9570,"l":8820,"c":9060,"v":45},
{"d":"2020-05-22","o":9060,"h":9270,"l":8940,"c":9170,"v":28},
{"d":"2020-05-23","o":9170,"h":9300,"l":9080,"c":9180,"v":18},
{"d":"2020-05-24","o":9180,"h":9310,"l":8700,"c":8720,"v":26},
{"d":"2020-05-25","o":8720,"h":8970,"l":8630,"c":8900,"v":28},
{"d":"2020-05-26","o":8900,"h":9010,"l":8700,"c":8840,"v":24},
{"d":"2020-05-27","o":8840,"h":9220,"l":8810,"c":9200,"v":28},
{"d":"2020-05-28","o":9200,"h":9620,"l":9110,"c":9570,"v":32},
{"d":"2020-05-29","o":9570,"h":9610,"l":9340,"c":9430,"v":25},
{"d":"2020-05-30","o":9430,"h":9740,"l":9350,"c":9700,"v":22},
{"d":"2020-05-31","o":9700,"h":9700,"l":9400,"c":9450,"v":20},
{"d":"2020-06-01","o":9450,"h":10430,"l":9420,"c":10200,"v":50},
{"d":"2020-06-02","o":10200,"h":10230,"l":9270,"c":9520,"v":55},
{"d":"2020-06-03","o":9520,"h":9690,"l":9390,"c":9670,"v":26},
{"d":"2020-06-04","o":9670,"h":9880,"l":9460,"c":9790,"v":26},
{"d":"2020-06-05","o":9790,"h":9860,"l":9580,"c":9620,"v":22},
{"d":"2020-06-06","o":9620,"h":9730,"l":9540,"c":9670,"v":14},
{"d":"2020-06-07","o":9670,"h":9800,"l":9390,"c":9750,"v":18},
{"d":"2020-06-08","o":9750,"h":9800,"l":9630,"c":9780,"v":15},
{"d":"2020-06-09","o":9780,"h":9880,"l":9580,"c":9770,"v":18},
{"d":"2020-06-10","o":9770,"h":9980,"l":9700,"c":9890,"v":22},
{"d":"2020-06-11","o":9890,"h":9950,"l":9090,"c":9270,"v":40},
{"d":"2020-06-12","o":9270,"h":9560,"l":9250,"c":9470,"v":22},
{"d":"2020-06-13","o":9470,"h":9490,"l":9360,"c":9470,"v":12},
{"d":"2020-06-14","o":9470,"h":9480,"l":9250,"c":9340,"v":12},
{"d":"2020-06-15","o":9340,"h":9520,"l":8920,"c":9430,"v":32},
{"d":"2020-06-16","o":9430,"h":9590,"l":9380,"c":9520,"v":22},
{"d":"2020-06-17","o":9520,"h":9560,"l":9250,"c":9460,"v":18},
{"d":"2020-06-18","o":9460,"h":9490,"l":9280,"c":9380,"v":16},
{"d":"2020-06-19","o":9380,"h":9440,"l":9230,"c":9300,"v":15},
{"d":"2020-06-20","o":9300,"h":9400,"l":9210,"c":9360,"v":10},
{"d":"2020-06-21","o":9360,"h":9430,"l":9280,"c":9290,"v":9},
{"d":"2020-06-22","o":9290,"h":9780,"l":9280,"c":9690,"v":24},
{"d":"2020-06-23","o":9690,"h":9690,"l":9580,"c":9630,"v":14},
{"d":"2020-06-24","o":9630,"h":9670,"l":9210,"c":9290,"v":22},
{"d":"2020-06-25","o":9290,"h":9320,"l":9060,"c":9250,"v":20},
{"d":"2020-06-26","o":9250,"h":9300,"l":9040,"c":9160,"v":18},
{"d":"2020-06-27","o":9160,"h":9190,"l":8840,"c":9010,"v":18},
{"d":"2020-06-28","o":9010,"h":9190,"l":8940,"c":9120,"v":10},
{"d":"2020-06-29","o":9120,"h":9230,"l":9030,"c":9190,"v":13},
{"d":"2020-06-30","o":9190,"h":9200,"l":9090,"c":9140,"v":12},
{"d":"2020-07-01","o":9140,"h":9300,"l":9100,"c":9230,"v":13},
{"d":"2020-07-02","o":9230,"h":9260,"l":8950,"c":9090,"v":16},
{"d":"2020-07-03","o":9090,"h":9130,"l":9040,"c":9060,"v":9},
{"d":"2020-07-04","o":9060,"h":9170,"l":9050,"c":9130,"v":7},
{"d":"2020-07-05","o":9130,"h":9140,"l":8940,"c":9080,"v":9},
{"d":"2020-07-06","o":9080,"h":9370,"l":9060,"c":9340,"v":18},
{"d":"2020-07-07","o":9340,"h":9360,"l":9210,"c":9250,"v":12},
{"d":"2020-07-08","o":9250,"h":9470,"l":9230,"c":9430,"v":16},
{"d":"2020-07-09","o":9430,"h":9440,"l":9150,"c":9240,"v":15},
{"d":"2020-07-10","o":9240,"h":9310,"l":9110,"c":9290,"v":13},
{"d":"2020-07-11","o":9290,"h":9300,"l":9180,"c":9240,"v":7},
{"d":"2020-07-12","o":9240,"h":9340,"l":9160,"c":9300,"v":8},
{"d":"2020-07-13","o":9300,"h":9340,"l":9200,"c":9240,"v":11},
{"d":"2020-07-14","o":9240,"h":9280,"l":9120,"c":9250,"v":12},
{"d":"2020-07-15","o":9250,"h":9270,"l":9160,"c":9190,"v":10},
{"d":"2020-07-16","o":9190,"h":9210,"l":9000,"c":9130,"v":13},
{"d":"2020-07-17","o":9130,"h":9190,"l":9080,"c":9160,"v":8},
{"d":"2020-07-18","o":9160,"h":9200,"l":9130,"c":9170,"v":6},
{"d":"2020-07-19","o":9170,"h":9240,"l":9110,"c":9210,"v":7},
{"d":"2020-07-20","o":9210,"h":9220,"l":9130,"c":9160,"v":8},
{"d":"2020-07-21","o":9160,"h":9420,"l":9150,"c":9390,"v":18},
{"d":"2020-07-22","o":9390,"h":9550,"l":9280,"c":9540,"v":20},
{"d":"2020-07-23","o":9540,"h":9650,"l":9490,"c":9610,"v":18},
{"d":"2020-07-24","o":9610,"h":9640,"l":9450,"c":9550,"v":16},
{"d":"2020-07-25","o":9550,"h":9740,"l":9530,"c":9710,"v":16},
{"d":"2020-07-26","o":9710,"h":10100,"l":9650,"c":9950,"v":28},
{"d":"2020-07-27","o":9950,"h":11410,"l":9930,"c":11030,"v":60},
{"d":"2020-07-28","o":11030,"h":11240,"l":10580,"c":10930,"v":45},
{"d":"2020-07-29","o":10930,"h":11340,"l":10860,"c":11100,"v":32},
{"d":"2020-07-30","o":11100,"h":11180,"l":10850,"c":11110,"v":26},
{"d":"2020-07-31","o":11110,"h":11450,"l":10970,"c":11351.61,"v":30},
{"d":"2020-08-01","o":11351.61,"h":11761.97,"l":11237.82,"c":11530.51,"v":22}
],
"r":[
{"d":"2019-04-30","r":60.7},{"d":"2019-05-03","r":68.7},{"d":"2019-05-06","r":72},{"d":"2019-05-09","r":78.7},{"d":"2019-05-11","r":87},{"d":"2019-05-13","r":83},{"d":"2019-05-15","r":88.7},{"d":"2019-05-16","r":78.7},{"d":"2019-05-18","r":65},{"d":"2019-05-19","r":72},{"d":"2019-05-22","r":67},{"d":"2019-05-25","r":70},{"d":"2019-05-27","r":65},{"d":"2019-05-30","r":72},{"d":"2019-06-02","r":62},{"d":"2019-06-05","r":55},{"d":"2019-06-08","r":50},{"d":"2019-06-11","r":54},{"d":"2019-06-14","r":58.7},{"d":"2019-06-17","r":68.7},{"d":"2019-06-20","r":75.3},{"d":"2019-06-23","r":78.7},{"d":"2019-06-26","r":87},{"d":"2019-06-27","r":62},{"d":"2019-06-30","r":56.7},{"d":"2019-07-03","r":60.7},{"d":"2019-07-06","r":56.7},{"d":"2019-07-09","r":62},{"d":"2019-07-12","r":52},{"d":"2019-07-15","r":45.3},{"d":"2019-07-18","r":47.3},{"d":"2019-07-21","r":43.3},{"d":"2019-07-24","r":42},{"d":"2019-07-29","r":42},{"d":"2019-08-01","r":52},{"d":"2019-08-04","r":60.7},{"d":"2019-08-07","r":63.3},{"d":"2019-08-10","r":56.7},{"d":"2019-08-13","r":48.7},{"d":"2019-08-16","r":43.3},{"d":"2019-08-19","r":50},{"d":"2019-08-22","r":45.3},{"d":"2019-08-25","r":48.7},{"d":"2019-08-28","r":42},{"d":"2019-08-31","r":45.3},{"d":"2019-09-03","r":54},{"d":"2019-09-06","r":52},{"d":"2019-09-09","r":52},{"d":"2019-09-12","r":48.7},{"d":"2019-09-15","r":45.3},{"d":"2019-09-18","r":47.3},{"d":"2019-09-21","r":40.7},{"d":"2019-09-24","r":22},{"d":"2019-09-27","r":20.7},{"d":"2019-09-30","r":25.3},{"d":"2019-10-03","r":28.7},{"d":"2019-10-06","r":32},{"d":"2019-10-09","r":40.7},{"d":"2019-10-12","r":35.3},{"d":"2019-10-15","r":38.7},{"d":"2019-10-18","r":36.7},{"d":"2019-10-21","r":40.7},{"d":"2019-10-23","r":32},{"d":"2019-10-24","r":30},{"d":"2019-10-26","r":63.3},{"d":"2019-10-29","r":60.7},{"d":"2019-10-31","r":58.7},{"d":"2019-11-03","r":58.7},{"d":"2019-11-06","r":55},{"d":"2019-11-09","r":48.7},{"d":"2019-11-12","r":47.3},{"d":"2019-11-15","r":43.3},{"d":"2019-11-18","r":38.7},{"d":"2019-11-21","r":32},{"d":"2019-11-25","r":23.3},{"d":"2019-11-27","r":38.7},{"d":"2019-11-30","r":35.3},{"d":"2019-12-03","r":38.7},{"d":"2019-12-06","r":36.7},{"d":"2019-12-09","r":40.7},{"d":"2019-12-12","r":35.3},{"d":"2019-12-15","r":31},{"d":"2019-12-18","r":42},{"d":"2019-12-21","r":50},{"d":"2019-12-26","r":48.7},{"d":"2019-12-31","r":45.3},{"d":"2020-01-02","r":48.7},{"d":"2020-01-05","r":58.7},{"d":"2020-01-08","r":65.3},{"d":"2020-01-11","r":62},{"d":"2020-01-14","r":68.7},{"d":"2020-01-17","r":65.3},{"d":"2020-01-20","r":63.3},{"d":"2020-01-23","r":62},{"d":"2020-01-26","r":68.7},{"d":"2020-01-29","r":70},{"d":"2020-02-01","r":65.3},{"d":"2020-02-04","r":62},{"d":"2020-02-07","r":72},{"d":"2020-02-10","r":72},{"d":"2020-02-13","r":68.7},{"d":"2020-02-16","r":58.7},{"d":"2020-02-19","r":52},{"d":"2020-02-22","r":48.7},{"d":"2020-02-25","r":35.3},{"d":"2020-02-28","r":42},{"d":"2020-03-02","r":38.7},{"d":"2020-03-05","r":38.7},{"d":"2020-03-08","r":28.7},{"d":"2020-03-12","r":16.7},{"d":"2020-03-14","r":25.3},{"d":"2020-03-17","r":28.7},{"d":"2020-03-20","r":38.7},{"d":"2020-03-23","r":42},{"d":"2020-03-26","r":45.3},{"d":"2020-03-29","r":48.7},{"d":"2020-04-01","r":47.3},{"d":"2020-04-04","r":52},{"d":"2020-04-07","r":56.7},{"d":"2020-04-10","r":50},{"d":"2020-04-13","r":54},{"d":"2020-04-16","r":58.7},{"d":"2020-04-19","r":54},{"d":"2020-04-22","r":62},{"d":"2020-04-25","r":65.3},{"d":"2020-04-28","r":74},{"d":"2020-05-01","r":72},{"d":"2020-05-04","r":75.3},{"d":"2020-05-07","r":78.7},{"d":"2020-05-09","r":68.7},{"d":"2020-05-10","r":54},{"d":"2020-05-13","r":62},{"d":"2020-05-16","r":56.7},{"d":"2020-05-19","r":60.7},{"d":"2020-05-22","r":52},{"d":"2020-05-25","r":47.3},{"d":"2020-05-28","r":55},{"d":"2020-05-31","r":58.7},{"d":"2020-06-03","r":54},{"d":"2020-06-06","r":55},{"d":"2020-06-09","r":52},{"d":"2020-06-12","r":47.3},{"d":"2020-06-15","r":50},{"d":"2020-06-18","r":48.7},{"d":"2020-06-21","r":54},{"d":"2020-06-24","r":45.3},{"d":"2020-06-27","r":43.3},{"d":"2020-06-30","r":47.3},{"d":"2020-07-03","r":45.3},{"d":"2020-07-06","r":52},{"d":"2020-07-09","r":48.7},{"d":"2020-07-12","r":50},{"d":"2020-07-15","r":47.3},{"d":"2020-07-18","r":48.7},{"d":"2020-07-21","r":58.7},{"d":"2020-07-24","r":65.3},{"d":"2020-07-27","r":80.7},{"d":"2020-07-29","r":78.7},{"d":"2020-08-01","r":83.3}
],
"path":[
{"d":"2020-08-01T07:00:00Z","p":11313},{"d":"2020-08-05T19:00:00Z","p":11675},{"d":"2020-08-08T19:00:00Z","p":11280},{"d":"2020-08-11T19:00:00Z","p":10722},{"d":"2020-08-15T10:00:00Z","p":10993},{"d":"2020-08-21T10:00:00Z","p":10565},{"d":"2020-08-26T19:00:00Z","p":10245},{"d":"2020-08-31T07:00:00Z","p":10040},{"d":"2020-09-03T07:00:00Z","p":10245},{"d":"2020-09-06T07:00:00Z","p":10169},{"d":"2020-09-09T07:00:00Z","p":10040},{"d":"2020-09-12T10:00:00Z","p":10169},{"d":"2020-09-15T07:00:00Z","p":10483},{"d":"2020-09-19T19:00:00Z","p":10407},{"d":"2020-09-24T07:00:00Z","p":10326},{"d":"2020-09-27T07:00:00Z","p":10407},{"d":"2020-09-30T10:00:00Z","p":10884},{"d":"2020-10-03T07:00:00Z","p":11151},{"d":"2020-10-06T07:00:00Z","p":11246},{"d":"2020-10-09T10:00:00Z","p":11122},{"d":"2020-10-12T10:00:00Z","p":11041},{"d":"2020-10-15T07:00:00Z","p":11360},{"d":"2020-10-18T10:00:00Z","p":11599},{"d":"2020-10-21T10:00:00Z","p":11518},{"d":"2020-10-24T07:00:00Z","p":11408},{"d":"2020-10-27T10:00:00Z","p":11360},{"d":"2020-10-30T10:00:00Z","p":11518},{"d":"2020-11-02T07:00:00Z","p":11947}
],
"badges":[
{"d":"2021-03-22T14:00:00Z","d2":"2021-04-17T17:45:00Z","dm":"2021-04-04T16:00:00Z","p":12040,"t":"12040.00","k":"res"},
{"d":"2021-03-22T14:00:00Z","d2":"2021-04-17T17:45:00Z","dm":"2021-04-04T16:00:00Z","p":11518,"t":"11530.51","k":"last"},
{"d":"2021-03-25T00:00:00Z","d2":"2021-04-17T17:45:00Z","dm":"2021-04-05T20:00:00Z","p":11122,"t":"09:44:59","k":"timer"},
{"d":"2021-03-22T14:00:00Z","d2":"2021-04-17T17:45:00Z","dm":"2021-04-04T16:00:00Z","p":10755,"t":"11485.00","k":"res"},
{"d":"2021-03-22T14:00:00Z","d2":"2021-04-17T17:45:00Z","dm":"2021-04-04T16:00:00Z","p":10231,"t":"10226.79","k":"sup"},
{"d":"2021-03-22T14:00:00Z","d2":"2021-04-17T17:45:00Z","dm":"2021-04-04T16:00:00Z","p":9850,"t":"9866.43","k":"sup"}
]
},
"vconcat":[
{
"width":798,"height":44,
"view":{"fill":"#fadfb9","stroke":null},
"encoding":{"x":{"field":"d","type":"temporal","title":null,"scale":{"type":"utc","domain":[{"year":2019,"month":"apr","date":29,"hours":19,"minutes":40,"utc":true},{"year":2021,"month":"apr","date":17,"hours":17,"minutes":45,"utc":true}],"nice":false},"axis":{"orient":"bottom","labels":false,"ticks":false,"domainColor":"#cdbb9f","domainWidth":1.5,"offset":0}}},
"layer":[
{"data":{"values":[{"d":"2019-04-29T19:40:00Z","d2":"2021-03-22T14:00:00Z","lo":30,"hi":70}]},"mark":{"type":"rect","color":"#ebd2ae"},
 "encoding":{"x2":{"field":"d2"},"y":{"field":"lo","type":"quantitative","title":null,"scale":{"domain":[12.4,97.4],"nice":false,"zero":false},"axis":{"orient":"right","offset":-29,"values":[40,80],"format":".2f","tickSize":2,"labelPadding":2}},"y2":{"field":"hi"}}},
{"data":{"values":[{"d":"2019-04-29T19:40:00Z","d2":"2021-03-22T14:00:00Z","lv":30},{"d":"2019-04-29T19:40:00Z","d2":"2021-03-22T14:00:00Z","lv":70}]},"mark":{"type":"rule","color":"#b8ab98","strokeDash":[2,2],"strokeWidth":0.7},
 "encoding":{"x2":{"field":"d2"},"y":{"field":"lv","type":"quantitative","title":null}}},
{"data":{"name":"r"},"mark":{"type":"line","color":"#5a534b","strokeWidth":0.8},
 "encoding":{"y":{"field":"r","type":"quantitative","title":null}}}
]
},
{
"width":798,"height":302,
"view":{"fill":"#fadfb9","stroke":null},
"title":{"text":"TradingView","orient":"bottom","anchor":"start","dx":11,"offset":4,"font":"Liberation Sans","fontSize":6.5,"fontWeight":"normal","color":"#e6e6e6"},
"resolve":{"scale":{"y":"independent"}},
"encoding":{"x":{"field":"d","type":"temporal","title":null,"scale":{"type":"utc","domain":[{"year":2019,"month":"apr","date":29,"hours":19,"minutes":40,"utc":true},{"year":2021,"month":"apr","date":17,"hours":17,"minutes":45,"utc":true}],"nice":false},
 "axis":{"orient":"bottom","offset":-13,"tickSize":2,"labelPadding":2,"values":[{"year":2019,"month":"jul","date":1,"utc":true},{"year":2019,"month":"sep","date":1,"utc":true},{"year":2019,"month":"nov","date":1,"utc":true},{"year":2020,"month":"jan","date":1,"utc":true},{"year":2020,"month":"mar","date":1,"utc":true},{"year":2020,"month":"may","date":1,"utc":true},{"year":2020,"month":"jul","date":1,"utc":true},{"year":2020,"month":"sep","date":1,"utc":true},{"year":2020,"month":"nov","date":1,"utc":true},{"year":2021,"month":"jan","date":1,"utc":true},{"year":2021,"month":"mar","date":1,"utc":true}],"labelExpr":"utcmonth(datum.value) == 0 ? utcFormat(datum.value, '%Y') : utcFormat(datum.value, '%b')"}}},
"layer":[
{"data":{"name":"k"},"mark":{"type":"rule","strokeWidth":0.9},
 "encoding":{"y":{"field":"v","type":"quantitative","title":null,"axis":null,"scale":{"domain":[-29.5,656.8],"nice":false,"zero":false}},"y2":{"datum":0},
 "color":{"condition":{"test":"datum.c >= datum.o","value":"#d3bf9c"},"value":"#b09c7e"}}},
{"encoding":{"y":{"field":"p","type":"quantitative","title":null,"scale":{"domain":[1318,15713],"nice":false,"zero":false},"axis":{"orient":"right","offset":-29,"values":[2000,3000,4000,5000,6000,7000,8000,9000,13000,14000,15000],"format":".2f","tickSize":2,"labelPadding":2}}},
 "layer":[
 {"data":{"values":[{"d":"2019-08-06T12:00:00Z","d2":"2021-02-03T19:00:00Z","p":11485,"p2":12040}]},"mark":{"type":"rect","fill":"#f8a487","stroke":"#ec8c70","strokeWidth":0.8},"encoding":{"x2":{"field":"d2"},"y2":{"field":"p2"}}},
 {"data":{"values":[{"d":"2020-06-01T00:00:00Z","d2":"2021-01-07T17:00:00Z","p":9866.43,"p2":10226.79}]},"mark":{"type":"rect","fill":"#cbc290","stroke":"#3d6a26","strokeWidth":0.9},"encoding":{"x2":{"field":"d2"},"y2":{"field":"p2"}}},
 {"data":{"values":[{"d":"2019-04-29T19:40:00Z","d2":"2021-03-22T14:00:00Z","p":12040}]},"mark":{"type":"rule","color":"#f3a08a","strokeWidth":1},"encoding":{"x2":{"field":"d2"}}},
 {"data":{"values":[{"d":"2019-04-29T19:40:00Z","d2":"2021-03-22T14:00:00Z","p":11485}]},"mark":{"type":"rule","color":"#e88770","strokeWidth":0.8,"strokeDash":[2,2]},"encoding":{"x2":{"field":"d2"}}},
 {"data":{"values":[{"d":"2019-04-29T19:40:00Z","d2":"2021-03-22T14:00:00Z","p":10226.79},{"d":"2019-04-29T19:40:00Z","d2":"2021-03-22T14:00:00Z","p":9866.43}]},"mark":{"type":"rule","color":"#a9ad78","strokeWidth":0.9},"encoding":{"x2":{"field":"d2"}}},
 {"data":{"name":"k"},"mark":{"type":"rule","strokeWidth":0.8},
  "encoding":{"y":{"field":"l","type":"quantitative","title":null},"y2":{"field":"h"},"color":{"condition":{"test":"datum.c >= datum.o","value":"#98a5c0"},"value":"#3a3a3a"}}},
 {"data":{"name":"k"},"mark":{"type":"rule","strokeWidth":1.4},
  "encoding":{"y":{"field":"o","type":"quantitative","title":null},"y2":{"field":"c"},"color":{"condition":{"test":"datum.c >= datum.o","value":"#8e9cba"},"value":"#111111"}}},
 {"data":{"name":"path"},"mark":{"type":"line","color":"#5d55e8","strokeWidth":0.9,"interpolate":"monotone"}},
 {"data":{"values":[{"d":"2020-11-02T07:00:00Z","p":11947}]},"mark":{"type":"point","shape":"M-1,0.7L0,-0.5L1,0.7","filled":false,"stroke":"#5d55e8","strokeWidth":0.9,"size":30,"angle":20}},
 {"data":{"values":[{"d":"2020-10-29T12:00:00Z","p":12376,"t":"Final resistance zone."},{"d":"2020-09-20T00:00:00Z","p":9564,"t":"Substantial support level."}]},"mark":{"type":"text","font":"Liberation Sans","fontStyle":"italic","fontSize":6.5,"color":"#56648f","align":"center","baseline":"middle"},"encoding":{"text":{"field":"t"}}},
 {"data":{"name":"badges"},"mark":{"type":"bar","orient":"horizontal","size":8},"encoding":{"x2":{"field":"d2"},"color":{"field":"k","type":"nominal","legend":null,"scale":{"domain":["res","last","timer","sup"],"range":["#ff1d1d","#5b5e68","#474a53","#4a8a2a"]}}}},
 {"data":{"name":"badges"},"mark":{"type":"text","font":"Liberation Sans","fontSize":5.5,"color":"#ffffff","align":"center","baseline":"middle"},"encoding":{"x":{"field":"dm","type":"temporal","title":null},"text":{"field":"t"}}}
 ]}
]
}
]
}
